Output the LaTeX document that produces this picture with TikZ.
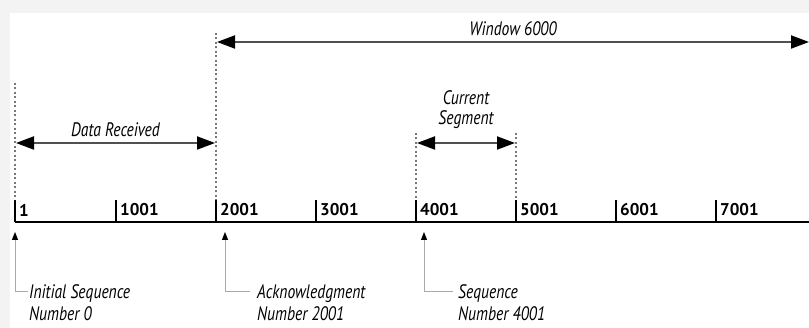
\documentclass[tikz,border=0pt]{standalone}
\usepackage{fontspec}
\setmainfont{PT Sans}[ItalicFeatures={FakeStretch=0.8}]
\usetikzlibrary{arrows.meta, positioning, calc}
\definecolor{framegray}{RGB}{243, 243, 243}
\definecolor{shaftgray}{RGB}{80, 80, 80}
\definecolor{dotgray}{RGB}{120, 120, 120}
\definecolor{leadgray}{RGB}{170, 170, 170}

\begin{document}
\begin{tikzpicture}[
    x=1pt, y=-1pt,
    span/.style={draw=shaftgray, line width=2pt, {Triangle[length=18pt,width=13pt,color=black]}-{Triangle[length=18pt,width=13pt,color=black]}},
    guide/.style={draw=dotgray, line width=1.2pt, dash pattern=on 2pt off 2.5pt},
    axis/.style={draw, line width=2.2pt},
    tickmark/.style={draw, line width=2.8pt},
    callout/.style={draw=leadgray, line width=1pt, -{Triangle[length=8pt,width=6pt,color=black]}},
    label/.style={font=\itshape\fontsize{19.5}{20}\selectfont, align=center, inner sep=5pt},
    note/.style={font=\itshape\fontsize{19.5}{22}\selectfont, align=left, anchor=north west, inner sep=0pt},
    seqnum/.style={font=\bfseries\fontsize{17}{19}\selectfont, anchor=west, inner sep=2pt}
]
    % Frame
    \useasboundingbox (0,0) rectangle (809,328);
    \fill[framegray] (0,0) rectangle (809,328);
    \fill[white] (10,13) rectangle (809,328);

    % Sequence number axis
    \foreach \n/\x in {1/15, 1001/116, 2001/216, 3001/316, 4001/416, 5001/516, 6001/616, 7001/716} {
        \coordinate (s\n) at (\x, 222);
        \coordinate (top\n) at (\x, 200);
        \draw[tickmark] (s\n) -- (top\n);
        \node[seqnum] (l\n) at (\x+2, 210) {\n};
    }
    \coordinate (axisend) at (809, 222);
    \draw[axis] (s1) -- (axisend);

    % Dotted guides
    \coordinate (g1) at (15, 83);
    \coordinate (g2001) at (216, 33);
    \coordinate (g4001) at (416, 133);
    \coordinate (g5001) at (516, 133);
    \draw[guide] (g1) -- (top1);
    \draw[guide] (g2001) -- (top2001);
    \draw[guide] (g4001) -- (top4001);
    \draw[guide] (g5001) -- (top5001);

    % Spans
    \coordinate (wl) at (217, 42);
    \coordinate (wr) at (809, 42);
    \draw[span] (wl) -- node[above, label] {Window 6000} (wr);

    \coordinate (dl) at (16, 143);
    \coordinate (dr) at (215, 143);
    \draw[span] (dl) -- node[above, label] {Data Received} (dr);

    \coordinate (cl) at (417, 143);
    \coordinate (cr) at (515, 143);
    \draw[span] (cl) -- node[above, label, yshift=8pt] {Current\\Segment} (cr);

    % Callouts
    \coordinate (p1) at (15, 232);
    \coordinate (p2001) at (225, 232);
    \coordinate (p4001) at (424, 232);

    \node[note] (isn) at (29, 284) {Initial Sequence\\Number 0};
    \node[note] (ack) at (257, 284) {Acknowledgment\\Number 2001};
    \node[note] (seq) at (458, 284) {Sequence\\Number 4001};

    \coordinate (k1) at (28, 292);
    \coordinate (k2001) at (250, 292);
    \coordinate (k4001) at (453, 292);
    \draw[callout] (k1) -| (p1);
    \draw[callout] (k2001) -| (p2001);
    \draw[callout] (k4001) -| (p4001);
\end{tikzpicture}
\end{document}
